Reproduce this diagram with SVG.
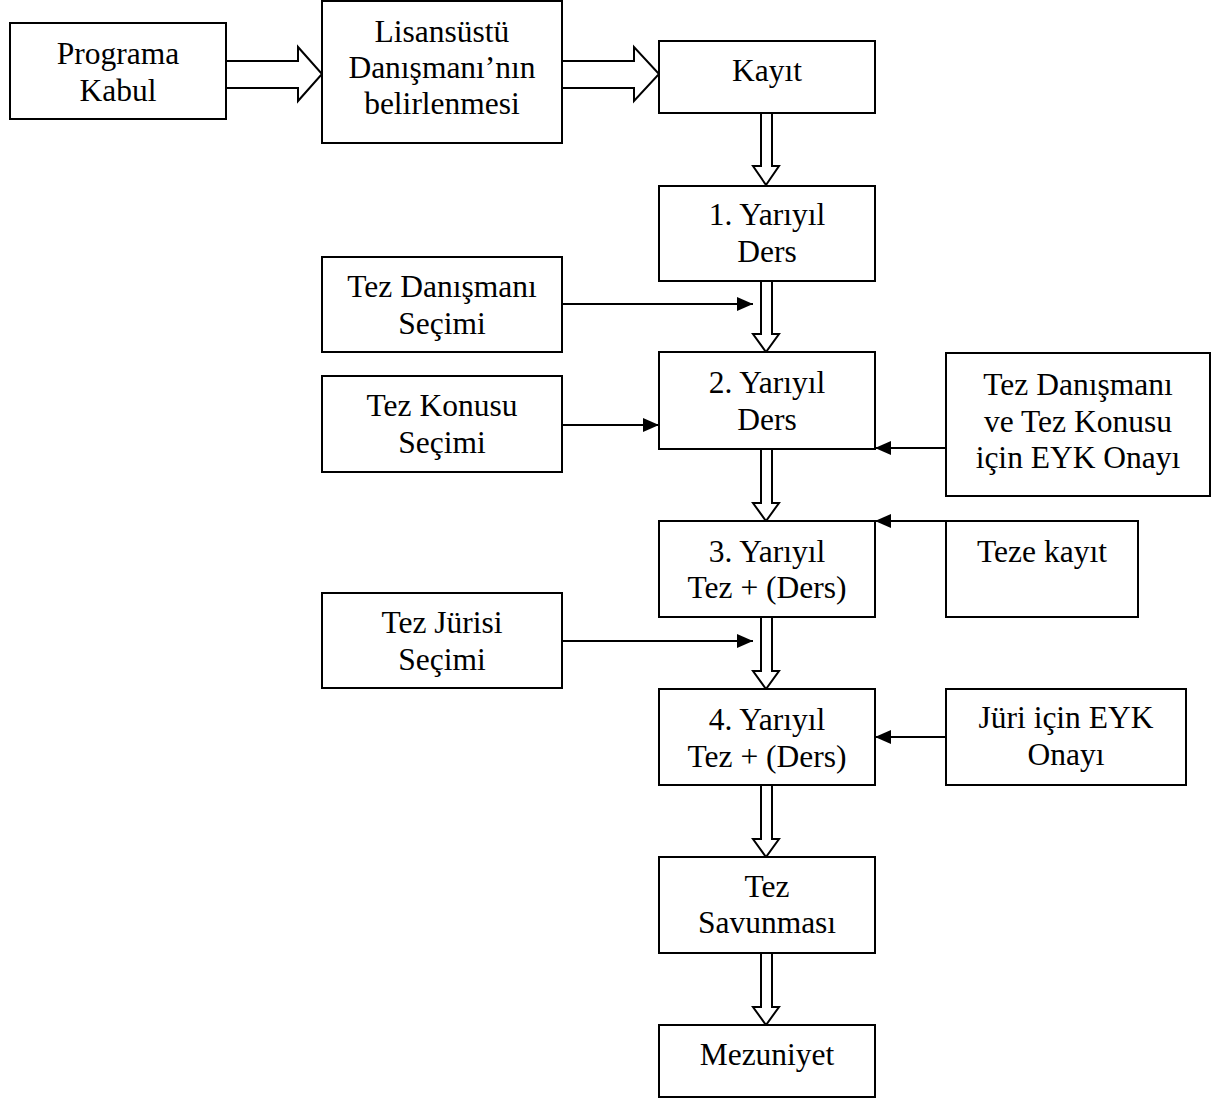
<svg xmlns="http://www.w3.org/2000/svg" width="1219" height="1098" viewBox="0 0 1219 1098">
<style>
.box{fill:#fff;stroke:#000;stroke-width:2}
.t{font-family:"Liberation Serif","Times New Roman",serif;font-size:31.5px;fill:#000;text-anchor:middle}
.ha{fill:#fff;stroke:#000;stroke-width:2;stroke-linejoin:miter}
.ln{stroke:#000;stroke-width:2;fill:none}
</style>
<defs>
<marker id="ah" markerWidth="16" markerHeight="14" refX="16" refY="7" orient="auto" markerUnits="userSpaceOnUse">
<path d="M0,0 L16,7 L0,14 Z" fill="#000"/>
</marker>
</defs>
<rect width="1219" height="1098" fill="#fff"/>
<g id="connectors">
<path class="ha" d="M226,61 H298 V47 L322,74 L298,101 V88 H226"/>
<path class="ha" d="M562,61 H634 V47 L659,74 L634,101 V88 H562"/>
<path class="ha" d="M761,113 V166 H753 L766,185 L779,166 H772 V113"/>
<path class="ha" d="M761,281 V334 H753 L766,352 L779,334 H772 V281"/>
<path class="ha" d="M761,449 V503 H753 L766,521 L779,503 H772 V449"/>
<path class="ha" d="M761,617 V671 H753 L766,689 L779,671 H772 V617"/>
<path class="ha" d="M761,785 V839 H753 L766,857 L779,839 H772 V785"/>
<path class="ha" d="M761,953 V1007 H753 L766,1025 L779,1007 H772 V953"/>
<line class="ln" x1="562" y1="304" x2="753" y2="304" marker-end="url(#ah)"/>
<line class="ln" x1="562" y1="425" x2="659" y2="425" marker-end="url(#ah)"/>
<line class="ln" x1="946" y1="448" x2="875" y2="448" marker-end="url(#ah)"/>
<line class="ln" x1="946" y1="521" x2="875" y2="521" marker-end="url(#ah)"/>
<line class="ln" x1="562" y1="641" x2="753" y2="641" marker-end="url(#ah)"/>
<line class="ln" x1="946" y1="737" x2="875" y2="737" marker-end="url(#ah)"/>
</g>
<g id="programa-kabul"><rect class="box" x="10" y="23" width="216" height="96"/><text class="t" x="118" y="64">Programa</text><text class="t" x="118" y="101">Kabul</text></g>
<g id="lisansustu"><rect class="box" x="322" y="1" width="240" height="142"/><text class="t" x="442" y="42">Lisansüstü</text><text class="t" x="442" y="78">Danışmanı’nın</text><text class="t" x="442" y="114">belirlenmesi</text></g>
<g id="kayit"><rect class="box" x="659" y="41" width="216" height="72"/><text class="t" x="767" y="81">Kayıt</text></g>
<g id="yariyil1"><rect class="box" x="659" y="186" width="216" height="95"/><text class="t" x="767" y="225">1. Yarıyıl</text><text class="t" x="767" y="262">Ders</text></g>
<g id="tez-danismani-secimi"><rect class="box" x="322" y="257" width="240" height="95"/><text class="t" x="442" y="297">Tez Danışmanı</text><text class="t" x="442" y="334">Seçimi</text></g>
<g id="yariyil2"><rect class="box" x="659" y="352" width="216" height="97"/><text class="t" x="767" y="393">2. Yarıyıl</text><text class="t" x="767" y="430">Ders</text></g>
<g id="tez-konusu-secimi"><rect class="box" x="322" y="376" width="240" height="96"/><text class="t" x="442" y="416">Tez Konusu</text><text class="t" x="442" y="453">Seçimi</text></g>
<g id="eyk-onayi"><rect class="box" x="946" y="353" width="264" height="143"/><text class="t" x="1078" y="395">Tez Danışmanı</text><text class="t" x="1078" y="432">ve Tez Konusu</text><text class="t" x="1078" y="468">için EYK Onayı</text></g>
<g id="yariyil3"><rect class="box" x="659" y="521" width="216" height="96"/><text class="t" x="767" y="562">3. Yarıyıl</text><text class="t" x="767" y="598">Tez + (Ders)</text></g>
<g id="teze-kayit"><rect class="box" x="946" y="521" width="192" height="96"/><text class="t" x="1042" y="562">Teze kayıt</text></g>
<g id="tez-jurisi-secimi"><rect class="box" x="322" y="593" width="240" height="95"/><text class="t" x="442" y="633">Tez Jürisi</text><text class="t" x="442" y="670">Seçimi</text></g>
<g id="yariyil4"><rect class="box" x="659" y="689" width="216" height="96"/><text class="t" x="767" y="730">4. Yarıyıl</text><text class="t" x="767" y="767">Tez + (Ders)</text></g>
<g id="juri-eyk"><rect class="box" x="946" y="689" width="240" height="96"/><text class="t" x="1066" y="728">Jüri için EYK</text><text class="t" x="1066" y="765">Onayı</text></g>
<g id="tez-savunmasi"><rect class="box" x="659" y="857" width="216" height="96"/><text class="t" x="767" y="897">Tez</text><text class="t" x="767" y="933">Savunması</text></g>
<g id="mezuniyet"><rect class="box" x="659" y="1025" width="216" height="72"/><text class="t" x="767" y="1065">Mezuniyet</text></g>
</svg>
